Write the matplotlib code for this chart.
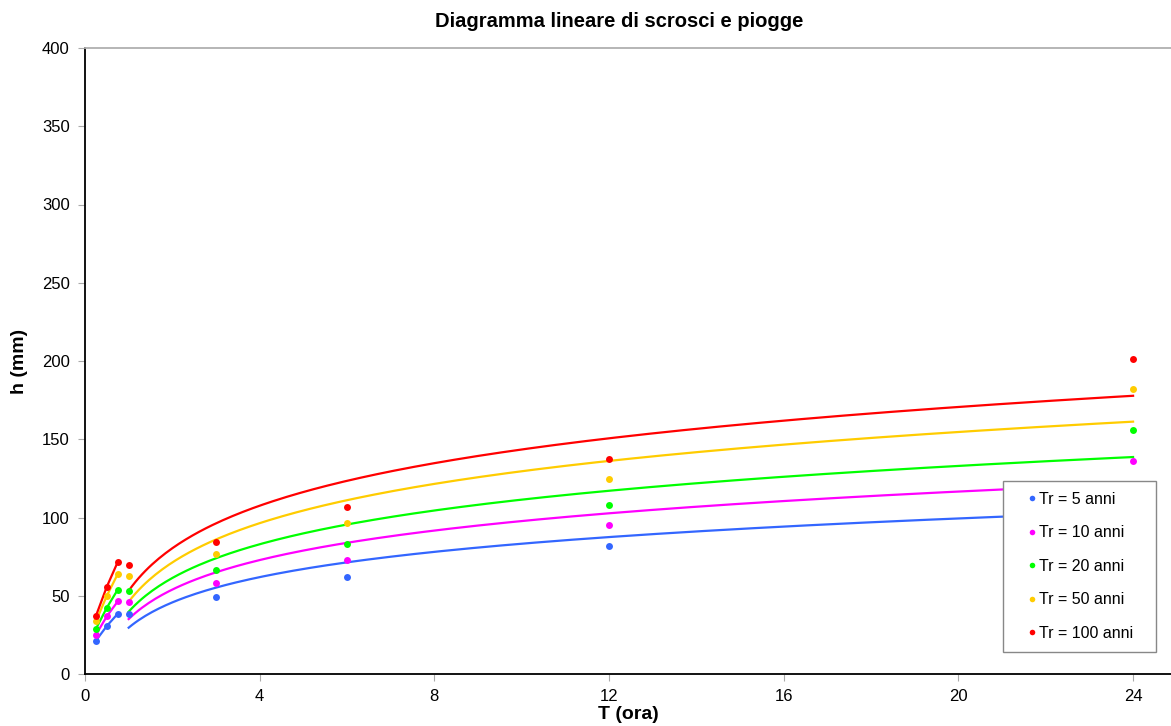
import numpy as np
import matplotlib
matplotlib.use("Agg")
import matplotlib.pyplot as plt

plt.rcParams['font.family'] = ['Liberation Sans', 'DejaVu Sans']

# durate (ore)
t_short = [0.25, 0.5, 0.75]
t_long = [1, 3, 6, 12, 24]

labels = ["Tr = 5 anni", "Tr = 10 anni", "Tr = 20 anni", "Tr = 50 anni", "Tr = 100 anni"]
colors = ["#3366FF", "#FF00FF", "#00FF00", "#FFCC00", "#FF0000"]

# altezze di pioggia osservate (mm)
h_short = [
    [21.3, 30.7, 38.5],
    [25.1, 36.9, 46.4],
    [28.8, 42.4, 53.9],
    [33.7, 50.0, 63.9],
    [37.1, 55.8, 71.6],
]
h_long = [
    [38.5, 49.4, 62.0, 81.6, 110.0],
    [46.0, 58.0, 73.1, 95.0, 135.9],
    [53.2, 66.3, 83.1, 107.8, 155.9],
    [62.8, 76.5, 96.5, 124.6, 181.9],
    [69.8, 84.2, 106.5, 137.2, 201.3],
]

# curve per piogge: h = a + b ln(T)
curve_a = [29.6, 35.1, 39.8, 46.2, 53.2]
curve_b = [23.3, 27.2, 31.1, 36.2, 39.2]

fig = plt.figure(figsize=(11.71, 7.26), dpi=100)
ax = fig.add_axes([85 / 1171, 1 - 674 / 726, 1086 / 1171, 626 / 726])

tt = np.linspace(1, 24, 300)
for i in range(len(labels)):
    c = colors[i]
    ax.plot(t_short, h_short[i], color=c, lw=1.6, zorder=2)
    ax.plot(tt, curve_a[i] + curve_b[i] * np.log(tt), color=c, lw=1.6, zorder=2)
    ax.plot(t_short + t_long, h_short[i] + h_long[i], 'o', color=c, ms=5,
            mec='none', ls='none', label=labels[i], zorder=3)

ax.set_xlim(0, 1086 / 43.67)
ax.set_ylim(0, 400)
ax.set_xticks([0, 4, 8, 12, 16, 20, 24])
ax.set_yticks(range(0, 401, 50))
ax.tick_params(direction='out', length=5, color='#aaaaaa', labelsize=12, pad=6)

for s in ['left', 'bottom']:
    ax.spines[s].set_color('black')
    ax.spines[s].set_linewidth(1.3)
ax.spines['top'].set_color('#b0b0b0')
ax.spines['top'].set_linewidth(1.3)
ax.spines['right'].set_visible(False)

ax.set_title("Diagramma lineare di scrosci e piogge", fontsize=14.5, fontweight='bold',
             pad=15, x=0.4917)
ax.set_xlabel("T (ora)", fontsize=14, fontweight='bold', labelpad=1)
ax.set_ylabel("h (mm)", fontsize=14, fontweight='bold')
ax.yaxis.set_label_coords(-0.0525, 0.5)

leg = ax.legend(loc='lower left', bbox_to_anchor=(0.845, 0.035, 0.141, 0.27),
                mode='expand', fontsize=11.5,
                handlelength=2.25, handletextpad=-0.69, labelspacing=1.16,
                borderpad=0.7, markerscale=0.8, fancybox=False, framealpha=1,
                edgecolor='#888888', borderaxespad=0)
leg.set_zorder(5)
leg.get_frame().set_linewidth(1)

fig.savefig("out.png", dpi=100)
